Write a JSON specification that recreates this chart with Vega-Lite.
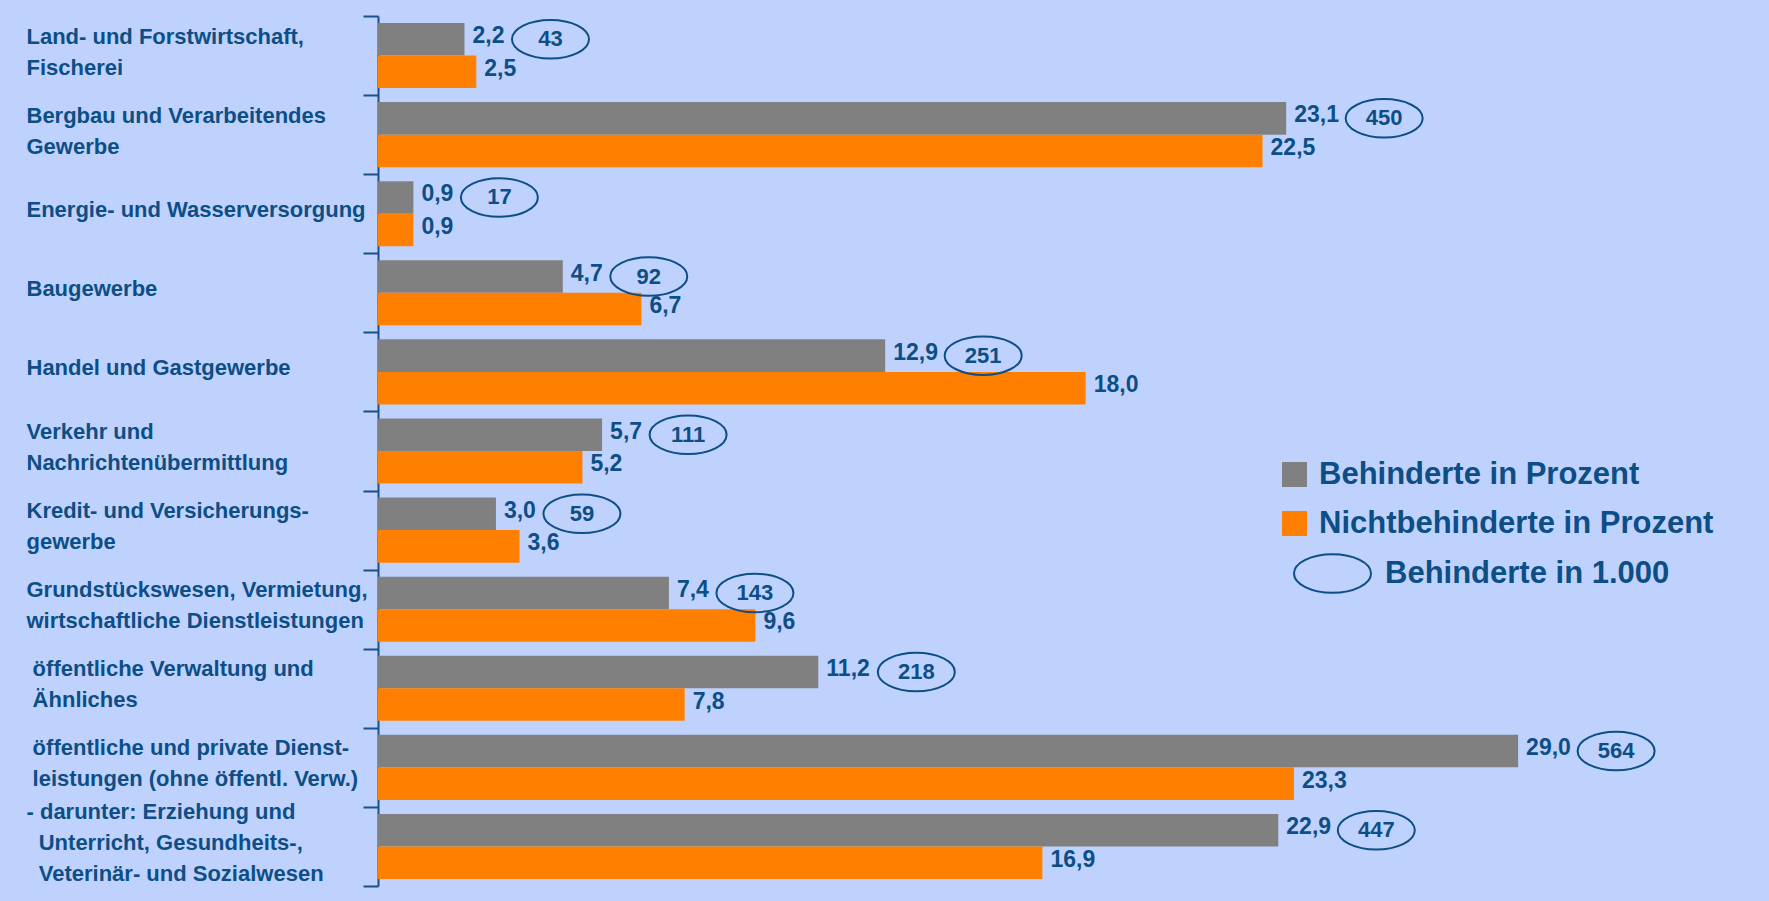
{
  "$schema": "https://vega.github.io/schema/vega-lite/v6.json",
  "width": 1376,
  "height": 870,
  "autosize": {"type": "none"},
  "padding": {"left": 378, "top": 16, "right": 15, "bottom": 15},
  "background": "#BFD2FE",
  "config": {
    "view": {"stroke": null},
    "font": "Liberation Sans",
    "locale": {"number": {"decimal": ",", "thousands": ".", "grouping": [3], "currency": ["", " €"]}}
  },
  "data": {
    "values": [
      {"Bereich": "Land- und Forstwirtschaft,|Fischerei", "Gruppe": "Behinderte in Prozent", "Anteil": 2.2, "Anzahl": 43},
      {"Bereich": "Land- und Forstwirtschaft,|Fischerei", "Gruppe": "Nichtbehinderte in Prozent", "Anteil": 2.5},
      {"Bereich": "Bergbau und Verarbeitendes|Gewerbe", "Gruppe": "Behinderte in Prozent", "Anteil": 23.1, "Anzahl": 450},
      {"Bereich": "Bergbau und Verarbeitendes|Gewerbe", "Gruppe": "Nichtbehinderte in Prozent", "Anteil": 22.5},
      {"Bereich": "Energie- und Wasserversorgung", "Gruppe": "Behinderte in Prozent", "Anteil": 0.9, "Anzahl": 17},
      {"Bereich": "Energie- und Wasserversorgung", "Gruppe": "Nichtbehinderte in Prozent", "Anteil": 0.9},
      {"Bereich": "Baugewerbe", "Gruppe": "Behinderte in Prozent", "Anteil": 4.7, "Anzahl": 92},
      {"Bereich": "Baugewerbe", "Gruppe": "Nichtbehinderte in Prozent", "Anteil": 6.7},
      {"Bereich": "Handel und Gastgewerbe", "Gruppe": "Behinderte in Prozent", "Anteil": 12.9, "Anzahl": 251},
      {"Bereich": "Handel und Gastgewerbe", "Gruppe": "Nichtbehinderte in Prozent", "Anteil": 18.0},
      {"Bereich": "Verkehr und|Nachrichtenübermittlung", "Gruppe": "Behinderte in Prozent", "Anteil": 5.7, "Anzahl": 111},
      {"Bereich": "Verkehr und|Nachrichtenübermittlung", "Gruppe": "Nichtbehinderte in Prozent", "Anteil": 5.2},
      {"Bereich": "Kredit- und Versicherungs-|gewerbe", "Gruppe": "Behinderte in Prozent", "Anteil": 3.0, "Anzahl": 59},
      {"Bereich": "Kredit- und Versicherungs-|gewerbe", "Gruppe": "Nichtbehinderte in Prozent", "Anteil": 3.6},
      {"Bereich": "Grundstückswesen, Vermietung,|wirtschaftliche Dienstleistungen", "Gruppe": "Behinderte in Prozent", "Anteil": 7.4, "Anzahl": 143},
      {"Bereich": "Grundstückswesen, Vermietung,|wirtschaftliche Dienstleistungen", "Gruppe": "Nichtbehinderte in Prozent", "Anteil": 9.6},
      {"Bereich": "\u200b\u00a0öffentliche Verwaltung und|\u200b\u00a0Ähnliches", "Gruppe": "Behinderte in Prozent", "Anteil": 11.2, "Anzahl": 218},
      {"Bereich": "\u200b\u00a0öffentliche Verwaltung und|\u200b\u00a0Ähnliches", "Gruppe": "Nichtbehinderte in Prozent", "Anteil": 7.8},
      {"Bereich": "\u200b\u00a0öffentliche und private Dienst-|\u200b\u00a0leistungen (ohne öffentl. Verw.)", "Gruppe": "Behinderte in Prozent", "Anteil": 29.0, "Anzahl": 564},
      {"Bereich": "\u200b\u00a0öffentliche und private Dienst-|\u200b\u00a0leistungen (ohne öffentl. Verw.)", "Gruppe": "Nichtbehinderte in Prozent", "Anteil": 23.3},
      {"Bereich": "- darunter: Erziehung und|\u200b\u00a0\u00a0Unterricht, Gesundheits-,|\u200b\u00a0\u00a0Veterinär- und Sozialwesen", "Gruppe": "Behinderte in Prozent", "Anteil": 22.9, "Anzahl": 447},
      {"Bereich": "- darunter: Erziehung und|\u200b\u00a0\u00a0Unterricht, Gesundheits-,|\u200b\u00a0\u00a0Veterinär- und Sozialwesen", "Gruppe": "Nichtbehinderte in Prozent", "Anteil": 16.9}
    ]
  },
  "encoding": {
    "y": {
      "field": "Bereich",
      "type": "nominal",
      "sort": null,
      "scale": {"paddingInner": 0, "paddingOuter": 0},
      "axis": {
        "title": null,
        "labelExpr": "split(datum.label, '|')",
        "labelAlign": "left",
        "labelBaseline": "middle",
        "labelPadding": 337,
        "labelOffset": {"expr": "-4 - (length(split(datum.label, '|')) - 1) * 15.5"},
        "labelLineHeight": 31,
        "labelFont": "Liberation Sans",
        "labelFontSize": 22,
        "labelFontWeight": "bold",
        "labelColor": "#0D4E85",
        "labelLimit": 0,
        "tickBand": "extent",
        "tickSize": 15,
        "tickWidth": 2,
        "tickColor": "#1B4F8A",
        "domainColor": "#1B4F8A",
        "domainWidth": 2,
        "grid": false
      }
    },
    "yOffset": {
      "field": "Gruppe",
      "type": "nominal",
      "scale": {"domain": ["Behinderte in Prozent", "Nichtbehinderte in Prozent"], "paddingInner": 0, "paddingOuter": 0.215}
    }
  },
  "layer": [
    {
      "mark": {"type": "bar"},
      "encoding": {
        "x": {"field": "Anteil", "type": "quantitative", "scale": {"domain": [0, 35], "nice": false}, "axis": null},
        "color": {
          "field": "Gruppe",
          "type": "nominal",
          "scale": {"domain": ["Behinderte in Prozent", "Nichtbehinderte in Prozent"], "range": ["#808080", "#FF7F00"]},
          "legend": {
            "orient": "none",
            "legendX": 901,
            "legendY": 443,
            "title": null,
            "padding": 0,
            "symbolType": "square",
            "symbolSize": 625,
            "symbolStrokeWidth": 0,
            "labelFont": "Liberation Sans",
            "labelFontSize": 31,
            "labelFontWeight": "bold",
            "labelColor": "#0D4E85",
            "labelOffset": 9,
            "labelLimit": 0,
            "rowPadding": 17
          }
        }
      }
    },
    {
      "mark": {"type": "text", "align": "left", "baseline": "middle", "dx": 8, "dy": -3, "font": "Liberation Sans", "fontSize": 23, "fontWeight": "bold", "color": "#0D4E85"},
      "encoding": {
        "x": {"field": "Anteil", "type": "quantitative"},
        "text": {"field": "Anteil", "type": "quantitative", "format": ".1f"}
      }
    },
    {
      "transform": [{"filter": "isValid(datum.Anzahl)"}],
      "mark": {"type": "point", "filled": false, "color": "#0D4E85", "strokeWidth": 2, "opacity": 1, "size": 5929, "xOffset": {"expr": "datum.Anteil >= 10 ? 98 : 86"}},
      "encoding": {
        "x": {"field": "Anteil", "type": "quantitative"},
        "shape": {
          "datum": "Behinderte in 1.000",
          "type": "nominal",
          "scale": {"range": ["M-1,0A1,0.5 0 1,1 1,0A1,0.5 0 1,1 -1,0Z"]},
          "legend": {
            "orient": "none",
            "legendX": 915,
            "legendY": 518,
            "title": null,
            "padding": 0,
            "symbolSize": 5929,
            "symbolStrokeColor": "#0D4E85",
            "symbolStrokeWidth": 2,
            "symbolFillColor": "transparent",
            "labelFont": "Liberation Sans",
            "labelFontSize": 31,
            "labelFontWeight": "bold",
            "labelColor": "#0D4E85",
            "labelOffset": 13,
            "labelLimit": 0
          }
        }
      }
    },
    {
      "transform": [{"filter": "isValid(datum.Anzahl)"}],
      "mark": {"type": "text", "align": "center", "baseline": "middle", "font": "Liberation Sans", "fontSize": 22, "fontWeight": "bold", "color": "#0D4E85", "xOffset": {"expr": "datum.Anteil >= 10 ? 98 : 86"}},
      "encoding": {
        "x": {"field": "Anteil", "type": "quantitative"},
        "text": {"field": "Anzahl", "type": "quantitative", "format": "d"}
      }
    }
  ]
}
